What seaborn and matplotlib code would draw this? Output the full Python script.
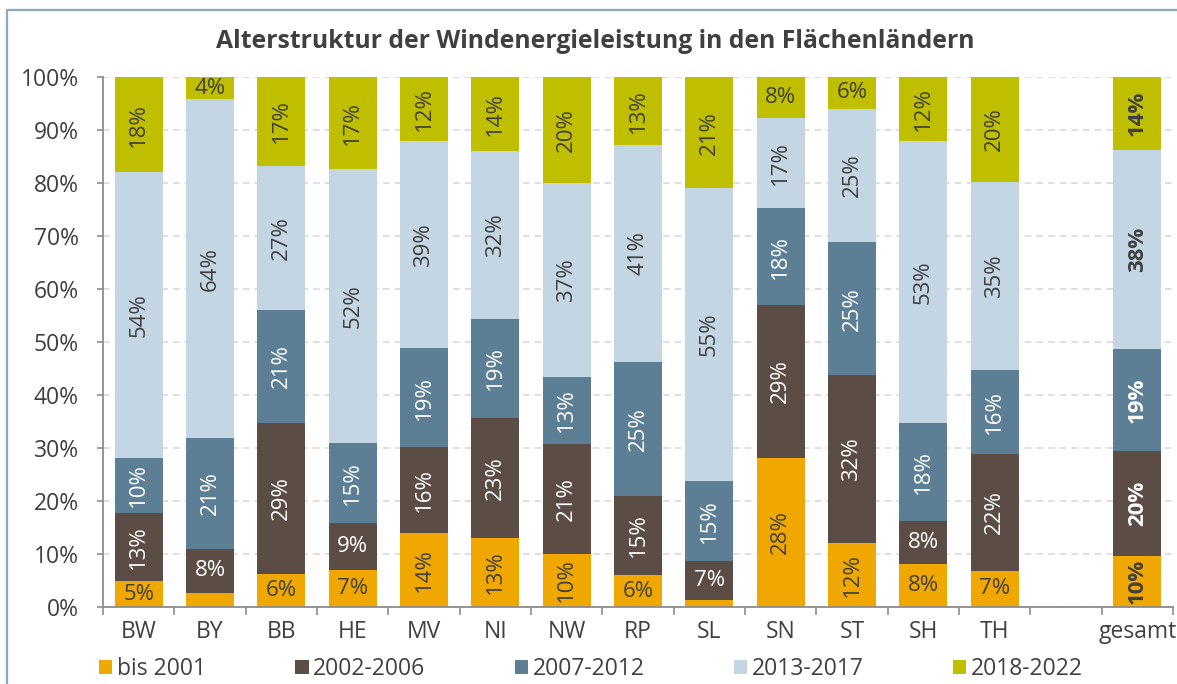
import matplotlib
matplotlib.use("Agg")
import matplotlib.pyplot as plt
from matplotlib.patches import Patch, Rectangle
from matplotlib.ticker import FixedLocator, PercentFormatter
import seaborn as sns
import pandas as pd
import numpy as np

# ---- data ----
states = ["BW", "BY", "BB", "HE", "MV", "NI", "NW", "RP", "SL", "SN", "ST", "SH", "TH", "gesamt"]
order = ["BW", "BY", "BB", "HE", "MV", "NI", "NW", "RP", "SL", "SN", "ST", "SH", "TH", " ", "gesamt"]
series_names = ["bis 2001", "2002-2006", "2007-2012", "2013-2017", "2018-2022"]
bis_2001 = [4.9, 2.6, 6.2, 7.0, 14.0, 13.0, 10.0, 6.0, 1.3, 28.2, 12.1, 8.1, 6.8, 9.6]
y2002_2006 = [12.9, 8.4, 28.6, 8.9, 16.1, 22.7, 20.8, 15.0, 7.4, 28.7, 31.6, 8.2, 22.1, 19.9]
y2007_2012 = [10.4, 20.9, 21.3, 15.1, 18.7, 18.6, 12.6, 25.3, 15.1, 18.3, 25.1, 18.4, 15.9, 19.1]
y2013_2017 = [53.8, 63.9, 27.2, 51.6, 39.1, 31.7, 36.6, 40.8, 55.2, 17.0, 25.2, 53.2, 35.4, 37.6]
y2018_2022 = [18.0, 4.2, 16.7, 17.4, 12.1, 14.0, 20.0, 12.9, 21.0, 7.8, 6.0, 12.1, 19.8, 13.8]
yticks = [0, 10, 20, 30, 40, 50, 60, 70, 80, 90, 100]
title = "Alterstruktur der Windenergieleistung in den Flächenländern"

colors = ["#F0A800", "#5B4D45", "#5D7F95", "#C4D5E4", "#BFBF00"]
label_colors = ["#404040", "#FFFFFF", "#FFFFFF", "#404040", "#404040"]
txt = "#404040"
axis_gray = "#8C8C8C"

sns.set_theme(style="white")
plt.rcParams["font.family"] = ["Open Sans", "DejaVu Sans"]

W, H = 1177, 684
fig = plt.figure(figsize=(W / 100, H / 100), dpi=100)
ax = fig.add_axes([103 / W, 1 - 607 / H, (1173 - 103) / W, (607 - 77) / H])

series = [bis_2001, y2002_2006, y2007_2012, y2013_2017, y2018_2022]
cum = np.cumsum(np.array(series), axis=0)

# draw cumulative bars from top layer down so lower layers overlay
for k in range(len(series) - 1, -1, -1):
    df = pd.DataFrame({"land": states, "value": cum[k]})
    sns.barplot(data=df, x="land", y="value", order=order, color=colors[k],
                saturation=1, width=0.67, linewidth=0, ax=ax, zorder=2)

# segment labels
for k in range(len(series)):
    for j, st in enumerate(states):
        v = series[k][j]
        if v < 3.5:
            continue
        r = int(round(v))
        xi = order.index(st)
        ymid = cum[k][j] - v / 2
        rot = 0 if r < 10 else 90
        ax.text(xi, ymid, f"{r}%", rotation=rot, ha="center", va="center",
                rotation_mode="anchor",
                fontsize=16, color=label_colors[k],
                fontweight="bold" if st == "gesamt" else "normal", zorder=5)

ax.set_ylim(0, 100)
ax.set_xlim(-0.5, len(order) - 0.5)
ax.set_yticks(yticks)
ax.yaxis.set_major_formatter(PercentFormatter(decimals=0))
ax.set_xlabel("")
ax.set_ylabel("")
ax.grid(axis="y", color="#D9D9D9", linestyle=(0, (4, 3)), linewidth=1.2, zorder=0)
ax.set_axisbelow(True)
for s in ["top", "right"]:
    ax.spines[s].set_visible(False)
for s in ["left", "bottom"]:
    ax.spines[s].set_color(axis_gray)
    ax.spines[s].set_linewidth(1.3)

ax.tick_params(axis="y", which="major", length=4.5, width=1.2, color=axis_gray,
               pad=13, labelsize=16.5, labelcolor=txt, left=True)
ax.tick_params(axis="x", which="major", length=0, pad=9, labelsize=16.5, labelcolor=txt)
ax.xaxis.set_minor_locator(FixedLocator(np.arange(-0.5, len(order), 1.0)))
ax.tick_params(axis="x", which="minor", length=5.5, width=1.2, color=axis_gray, bottom=True)

# title
fig.text(595 / W, 1 - 42 / H, title, ha="center", va="center",
         fontsize=17.8, fontweight="bold", color=txt)

# legend
handles = [Patch(facecolor=c, edgecolor="none", label=n) for c, n in zip(colors, series_names)]
fig.legend(handles=handles, loc="center left", bbox_to_anchor=(99 / W, 1 - 669 / H),
           ncol=5, frameon=False, fontsize=16.5, labelcolor=txt,
           handlelength=0.58, handleheight=0.58, handletextpad=0.2,
           columnspacing=3.9, borderpad=0, borderaxespad=0)

# outer frame (left/top edges visible)
fig.patches.append(Rectangle((7 / W, -0.2), 1.2, 1.2 - 10 / H, transform=fig.transFigure,
                             fill=False, edgecolor="#8DA6B8", linewidth=1.6, clip_on=False))

fig.savefig("out.png", dpi=100)
